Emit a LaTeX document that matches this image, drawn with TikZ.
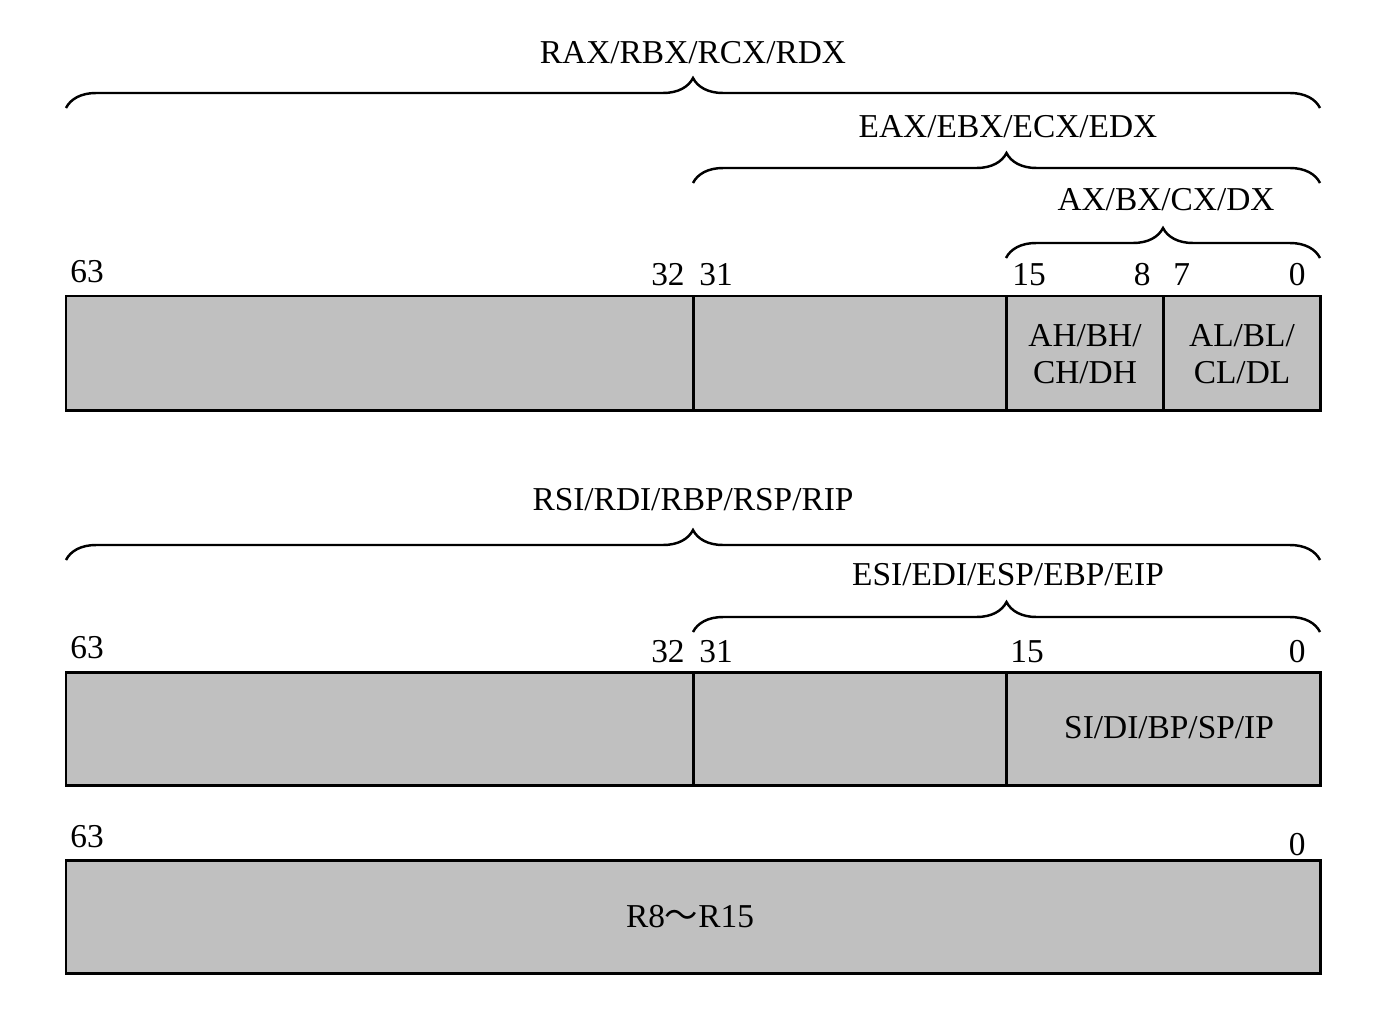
\documentclass[tikz,border=0pt]{standalone}
\usepackage{fontspec}
\setmainfont{Liberation Serif}
\newfontfamily\cjk{Noto Sans CJK SC}
\usetikzlibrary{decorations.pathreplacing}
\definecolor{regfill}{RGB}{192,192,192}

\begin{document}
\begin{tikzpicture}[x=.02cm,y=-.02cm,
 reg/.style={draw,line width=1.7pt,fill=regfill},
 brc/.style={decorate,decoration={brace,amplitude=.6cm},line width=1.4pt},
 lbl/.style={font=\fontsize{19}{23}\selectfont,inner sep=0pt}]
 \useasboundingbox (0,0) rectangle (1381,1021);
 % first register group
 \draw[reg] (66,296) rectangle (1320,410);
 \foreach \x in {693,1006,1163}
  \draw[line width=1.7pt] (\x,296)--(\x,410);
 \draw[brc] (66,108)--(1320,108);
 \draw[brc] (693,183)--(1320,183);
 \draw[brc] (1006,258)--(1320,258);
 \node[lbl] (rax) at (693,53) {RAX/RBX/RCX/RDX};
 \node[lbl] (eax) at (1008,127) {EAX/EBX/ECX/EDX};
 \node[lbl] (ax) at (1166,200) {AX/BX/CX/DX};
 \node[lbl,align=center] (ah) at (1085,354) {AH/BH/\\[-2pt]CH/DH};
 \node[lbl,align=center] (al) at (1242,354) {AL/BL/\\[-2pt]CL/DL};
 \foreach \x/\y/\t in {70/282/63,699/285/31,1012/285/15,1173/285/7}
  \node[lbl,anchor=base west] at (\x,\y) {\t};
 \foreach \x/\y/\t in {685/285/32,1151/285/8,1306/285/0}
  \node[lbl,anchor=base east] at (\x,\y) {\t};
 % second register group
 \draw[reg] (66,672) rectangle (1320,785);
 \foreach \x in {693,1006}
  \draw[line width=1.7pt] (\x,672)--(\x,785);
 \draw[brc] (66,560)--(1320,560);
 \draw[brc] (693,632)--(1320,632);
 \node[lbl] (rsi) at (693,500) {RSI/RDI/RBP/RSP/RIP};
 \node[lbl] (esi) at (1008,575) {ESI/EDI/ESP/EBP/EIP};
 \node[lbl] (si) at (1169,728) {SI/DI/BP/SP/IP};
 \foreach \x/\y/\t in {70/658/63,699/662/31,1010/662/15}
  \node[lbl,anchor=base west] at (\x,\y) {\t};
 \foreach \x/\y/\t in {685/662/32,1306/662/0}
  \node[lbl,anchor=base east] at (\x,\y) {\t};
 % third register group
 \draw[reg] (66,860) rectangle (1320,973);
 \node[lbl] (r8) at (690,917) {R8{\cjk ～}R15};
 \node[lbl,anchor=base west] at (70,847) {63};
 \node[lbl,anchor=base east] at (1306,855) {0};
\end{tikzpicture}
\end{document}
